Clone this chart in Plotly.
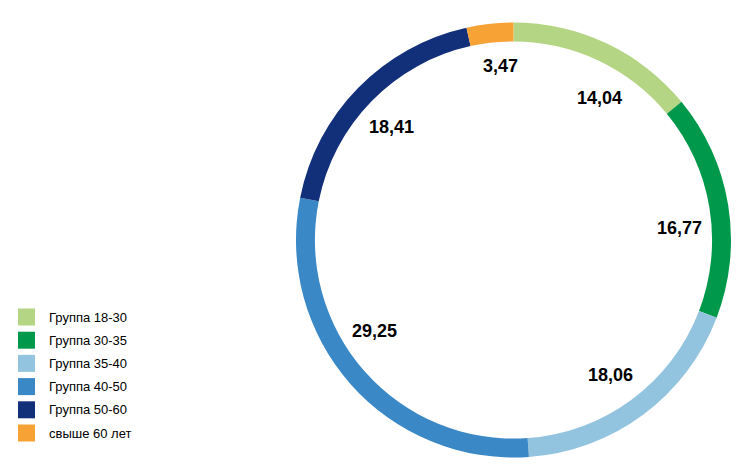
import math
import plotly.graph_objects as go

# ---- data ----
categories = ["Группа 18-30", "Группа 30-35", "Группа 35-40", "Группа 40-50", "Группа 50-60", "свыше 60 лет"]
values = [14.04, 16.77, 18.06, 29.25, 18.41, 3.47]
value_labels = ["14,04", "16,77", "18,06", "29,25", "18,41", "3,47"]

# ---- style ----
colors = ["#B4D583", "#00994C", "#93C4DF", "#3B88C7", "#122F7A", "#F7A234"]
label_angle_nudge = [6, 5, 1, 8, -1.5, 2]   # degrees, styling tweak for label placement
label_r_nudge = [0, 0, 0, 0, 0, 8]          # px, styling tweak for label placement

W, H = 752, 467
cx, cy, R = 513.5, 240.0, 217.5
hole = 0.913
label_r = 166

fig = go.Figure()
fig.add_trace(go.Pie(
    labels=categories,
    values=values,
    hole=hole,
    sort=False,
    direction="clockwise",
    rotation=0,
    marker=dict(colors=colors, line=dict(width=0)),
    textinfo="none",
    hoverinfo="label+value",
    showlegend=False,
    domain=dict(x=[(cx - R) / W, (cx + R) / W], y=[(H - cy - R) / H, (H - cy + R) / H]),
))

annotations = []
total = sum(values)
cum = 0.0
for i, v in enumerate(values):
    mid = (cum + v / 2) / total * 360 + label_angle_nudge[i]
    cum += v
    a = math.radians(mid)
    r = label_r + label_r_nudge[i]
    px = cx + r * math.sin(a)
    py = cy - r * math.cos(a)
    annotations.append(dict(
        x=px / W, y=1 - py / H, xref="paper", yref="paper",
        text="<b>" + value_labels[i] + "</b>", showarrow=False,
        xanchor="center", yanchor="middle",
        font=dict(family="Liberation Sans, Arial, sans-serif", size=18, color="#000000"),
    ))

# custom legend
shapes = []
leg_x0, leg_y0, leg_step, sq = 18, 317, 23.2, 17
for i, (cat, col) in enumerate(zip(categories, colors)):
    yc = leg_y0 + i * leg_step
    shapes.append(dict(
        type="rect", xref="paper", yref="paper",
        x0=leg_x0 / W, x1=(leg_x0 + sq) / W,
        y0=1 - (yc + sq / 2) / H, y1=1 - (yc - sq / 2) / H,
        fillcolor=col, line=dict(width=0),
    ))
    annotations.append(dict(
        x=47 / W, y=1 - yc / H, xref="paper", yref="paper",
        text=cat, showarrow=False, xanchor="left", yanchor="middle",
        font=dict(family="Liberation Sans, Arial, sans-serif", size=13, color="#000000"),
    ))

fig.update_layout(
    width=W, height=H,
    margin=dict(l=0, r=0, t=0, b=0),
    paper_bgcolor="white", plot_bgcolor="white",
    annotations=annotations, shapes=shapes,
)
fig.write_html("out.html", config={"displayModeBar": False},
               post_script="document.body.style.margin='0';document.body.style.overflow='hidden';")
